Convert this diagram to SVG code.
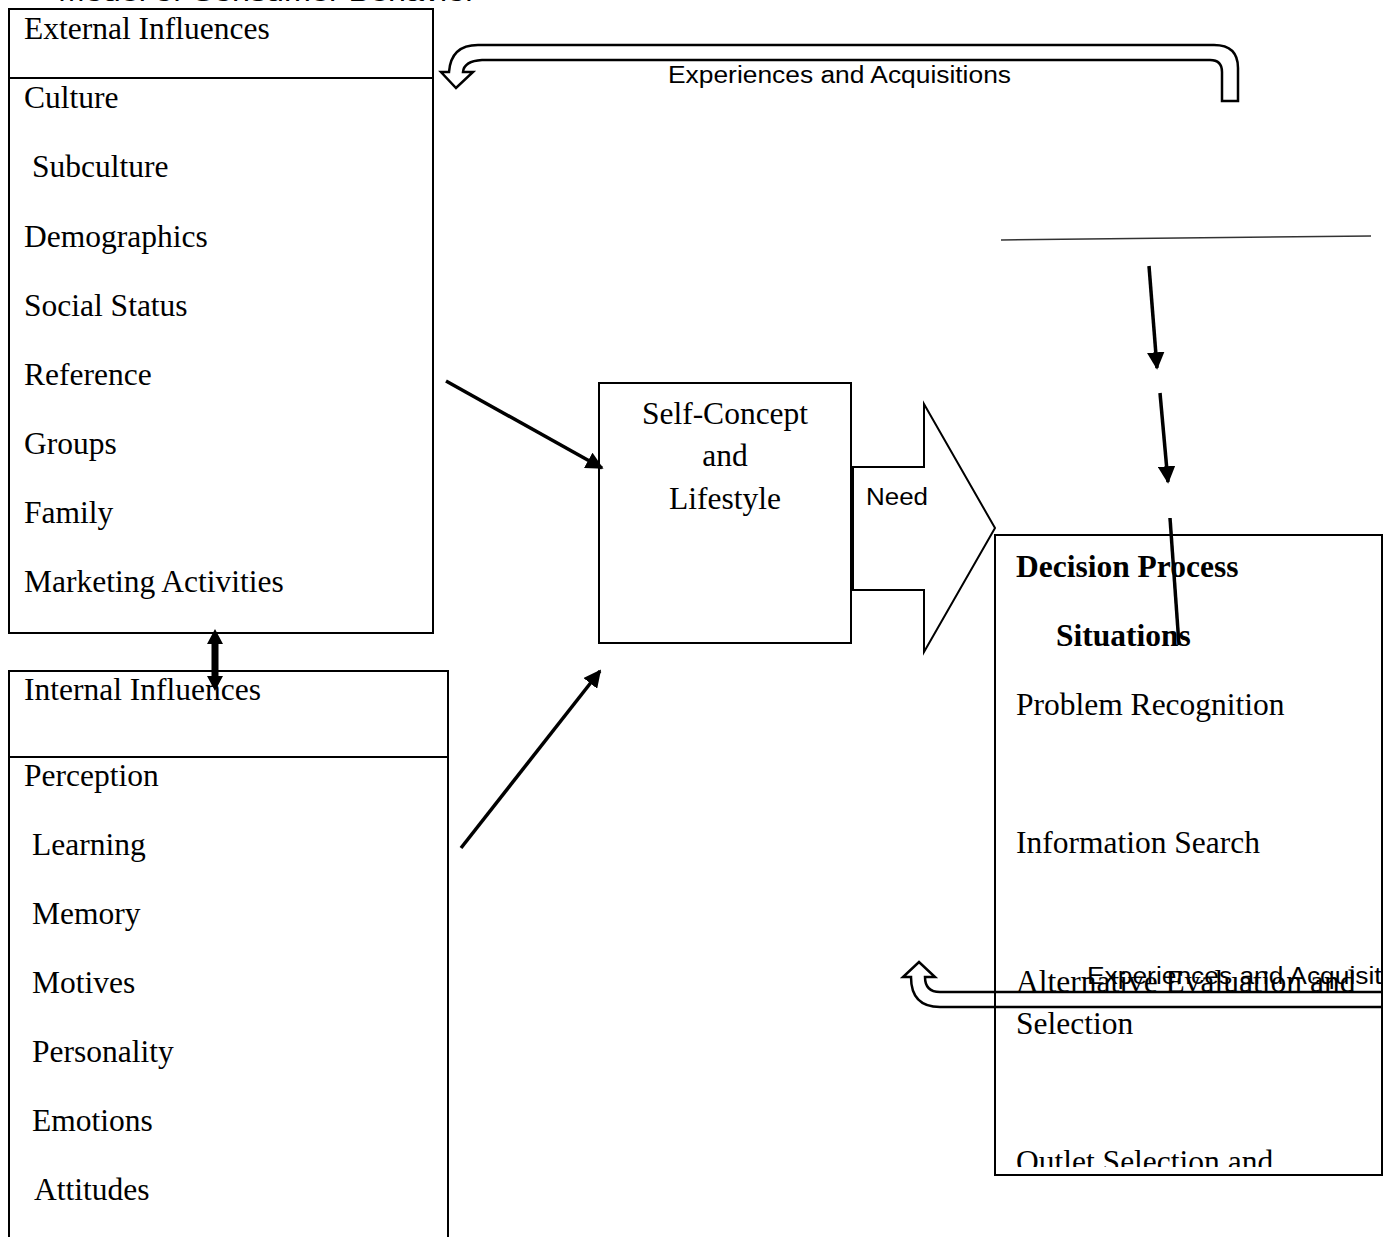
<svg xmlns="http://www.w3.org/2000/svg" width="1385" height="1237" viewBox="0 0 1385 1237">
<defs>
<style>
.box{fill:none;stroke:#000;stroke-width:2}
.t{font-family:"Liberation Serif","Times New Roman",serif;font-size:31.5px;fill:#000}
.b{font-weight:bold}
.s{font-family:"Liberation Sans",Arial,sans-serif;font-size:23px;fill:#000}
.ln{stroke:#000;stroke-width:3.5;fill:none}
</style>
<marker id="ah" viewBox="0 0 10 10" refX="9" refY="5" markerWidth="5" markerHeight="5" orient="auto" markerUnits="strokeWidth">
<path d="M0,0 L10,5 L0,10 z" fill="#000"/>
</marker>
<clipPath id="clipDec"><rect x="995" y="535" width="388" height="632"/></clipPath>
<clipPath id="clipR"><rect x="0" y="0" width="1383" height="1237"/></clipPath>
</defs>
<rect width="1385" height="1237" fill="#fff"/>

<text class="s" x="58" y="0.5" font-size="30" textLength="418" lengthAdjust="spacingAndGlyphs">Model of Consumer Behavior</text>

<g id="external">
<rect class="box" x="9" y="9" width="424" height="624"/>
<line class="box" x1="9" y1="78" x2="433" y2="78"/>
<text class="t" x="24" y="39">External Influences</text>
<text class="t" x="24" y="108">Culture</text>
<text class="t" x="32" y="177">Subculture</text>
<text class="t" x="24" y="247">Demographics</text>
<text class="t" x="24" y="316">Social Status</text>
<text class="t" x="24" y="385">Reference</text>
<text class="t" x="24" y="454">Groups</text>
<text class="t" x="24" y="523">Family</text>
<text class="t" x="24" y="592">Marketing Activities</text>
</g>

<g id="internal">
<path class="box" d="M9,1240 V671 H448 V1240"/>
<line class="box" x1="9" y1="757" x2="448" y2="757"/>
<text class="t" x="24" y="700">Internal Influences</text>
<text class="t" x="24" y="786">Perception</text>
<text class="t" x="32" y="855">Learning</text>
<text class="t" x="32" y="924">Memory</text>
<text class="t" x="32" y="993">Motives</text>
<text class="t" x="32" y="1062">Personality</text>
<text class="t" x="32" y="1131">Emotions</text>
<text class="t" x="34" y="1200">Attitudes</text>
</g>

<g id="selfconcept">
<rect class="box" x="599" y="383" width="252" height="260"/>
<text class="t" x="725" y="424" text-anchor="middle">Self-Concept</text>
<text class="t" x="725" y="466" text-anchor="middle">and</text>
<text class="t" x="725" y="509" text-anchor="middle">Lifestyle</text>
</g>

<g id="need">
<path d="M853,467 H924 V404 L995,528 L924,652 V590 H853 Z" fill="#fff" stroke="#000" stroke-width="2"/>
<text class="s" x="866" y="505" font-size="25" textLength="62" lengthAdjust="spacingAndGlyphs">Need</text>
</g>

<g id="decision">
<rect class="box" x="995" y="535" width="387" height="640"/>
<g clip-path="url(#clipDec)">
<text class="t b" x="1016" y="577">Decision Process</text>
<text class="t b" x="1056" y="646">Situations</text>
<text class="t" x="1016" y="715">Problem Recognition</text>
<text class="t" x="1016" y="853">Information Search</text>
<text class="t" x="1016" y="992">Alternative Evaluation and</text>
<text class="t" x="1016" y="1034">Selection</text>
<text class="t" x="1016" y="1172">Outlet Selection and</text>
</g>
</g>

<g id="connectors">
<path d="M1222,101 V72 Q1222,60 1210,60 H482 Q464,61 463,72 H473 L456,88 L441,72 H449 Q451,45 478,45 H1214 Q1238,45 1238,68 V101 Z" fill="#fff" stroke="#000" stroke-width="2.5"/>
<text class="s" x="668" y="83" textLength="343" lengthAdjust="spacingAndGlyphs">Experiences and Acquisitions</text>

<line x1="1001" y1="240" x2="1371" y2="236" stroke="#333" stroke-width="1.5"/>

<line class="ln" x1="1149" y1="266" x2="1157" y2="368" marker-end="url(#ah)"/>
<line class="ln" x1="1160" y1="393" x2="1168" y2="482" marker-end="url(#ah)"/>
<line class="ln" x1="1170" y1="518" x2="1179" y2="645"/>

<line class="ln" x1="446" y1="381" x2="602" y2="468" marker-end="url(#ah)"/>
<line class="ln" x1="461" y1="848" x2="600" y2="671" marker-end="url(#ah)"/>

<path d="M215,629 L223,644 H218.5 V676 H223 L215,691 L207,676 H211.5 V644 H207 Z" fill="#000"/>

<g clip-path="url(#clipR)">
<path d="M1400,992 H940 Q925,992 925,977 H935 L919,962 L903,977 H911 Q911,1007 940,1007 H1400" fill="none" stroke="#000" stroke-width="2.5"/>
<text class="s" x="1087" y="984" textLength="343" lengthAdjust="spacingAndGlyphs">Experiences and Acquisitions</text>
</g>
</g>
</svg>
